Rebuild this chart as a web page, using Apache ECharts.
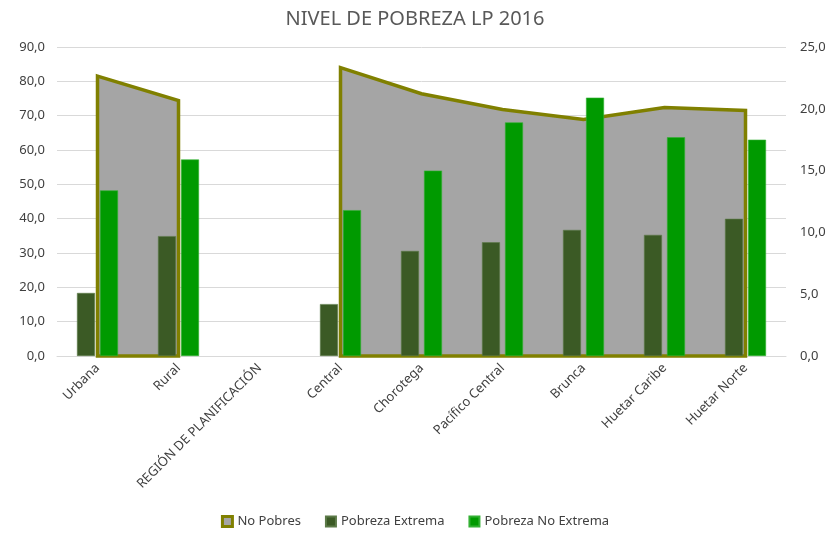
<!DOCTYPE html>
<html>
<head>
	<meta charset="utf-8">
	<title>Nivel de pobreza LP 2016</title>
	<style>
		html, body { margin: 0; padding: 0; background: #fff; }
		#chart { width: 830px; height: 535px; }
	</style>
</head>
<body>
<div id="chart"></div>
<script src="https://cdn.jsdelivr.net/npm/echarts@6/dist/echarts.min.js"></script>
<script>
	var categories = ['Urbana', 'Rural', 'REGIÓN DE PLANIFICACIÓN', 'Central', 'Chorotega', 'Pacífico Central', 'Brunca', 'Huetar Caribe', 'Huetar Norte'];
	// No Pobres, eje izquierdo
	var noPobres = [81.5, 74.4, null, 84.0, 76.4, 71.8, 68.9, 72.4, 71.5];
	// eje derecho
	var pobrezaExtrema = [5.1, 9.7, null, 4.2, 8.5, 9.2, 10.2, 9.8, 11.1];
	var pobrezaNoExtrema = [13.4, 15.9, null, 11.8, 15.0, 18.9, 20.9, 17.7, 17.5];

	var leftTicks = { min: 0, max: 90, interval: 10 };
	var rightTicks = { min: 0, max: 25, interval: 5 };

	// tramos continuos del área (se cortan en los valores vacíos)
	var segments = [];
	var start = null;
	for (var i = 0; i < noPobres.length; i++) {
		if (noPobres[i] != null && start === null) start = i;
		if ((noPobres[i] == null || i == noPobres.length - 1) && start !== null) {
			var end = noPobres[i] == null ? i - 1 : i;
			segments.push([start, end, 0]);
			start = null;
		}
	}

	function fmt(v) {
		return v.toFixed(1).replace('.', ',');
	}

	var font = 'Noto Sans';
	var grey = '#595959';

	var option = {
		animation: false,
		title: {
			text: 'NIVEL DE POBREZA LP 2016',
			left: 'center',
			top: 4,
			textStyle: { fontFamily: font, fontSize: 20, fontWeight: 'normal', color: grey }
		},
		legend: {
			bottom: 2,
			left: 'center',
			icon: 'rect',
			itemWidth: 10,
			itemHeight: 10,
			itemGap: 24,
			textStyle: { fontFamily: font, fontSize: 13, color: '#404040' },
			data: [
				{ name: 'No Pobres', itemStyle: { color: '#a5a5a5', borderColor: '#808000', borderWidth: 3 } },
				{ name: 'Pobreza Extrema' },
				{ name: 'Pobreza No Extrema' }
			]
		},
		grid: { left: 57, right: 44, top: 47, bottom: 179 },
		xAxis: {
			type: 'category',
			data: categories,
			axisLine: { lineStyle: { color: '#d9d9d9' } },
			axisTick: { show: false },
			axisLabel: {
				rotate: 45,
				interval: 0,
				fontFamily: font,
				fontSize: 13,
				color: '#404040',
				margin: 10
			}
		},
		yAxis: [
			{
				type: 'value',
				min: leftTicks.min,
				max: leftTicks.max,
				interval: leftTicks.interval,
				axisLine: { show: false },
				axisTick: { show: false },
				splitLine: { lineStyle: { color: '#d9d9d9' } },
				axisLabel: { formatter: fmt, fontFamily: font, fontSize: 13, color: '#404040', margin: 12 }
			},
			{
				type: 'value',
				min: rightTicks.min,
				max: rightTicks.max,
				interval: rightTicks.interval,
				axisLine: { show: false },
				axisTick: { show: false },
				splitLine: { show: false },
				axisLabel: { formatter: fmt, fontFamily: font, fontSize: 13, color: '#404040', margin: 14 }
			}
		],
		series: [
			{
				name: 'No Pobres',
				type: 'custom',
				yAxisIndex: 0,
				z: 1,
				data: segments,
				encode: { x: [0, 1], y: 2 },
				itemStyle: { color: '#a5a5a5', borderColor: '#808000', borderWidth: 3 },
				renderItem: function (params, api) {
					var s = api.value(0), e = api.value(1);
					var pts = [];
					for (var k = s; k <= e; k++) {
						pts.push(api.coord([k, noPobres[k]]));
					}
					pts.push(api.coord([e, 0]));
					pts.push(api.coord([s, 0]));
					return {
						type: 'polygon',
						shape: { points: pts },
						style: { fill: '#a5a5a5', stroke: '#808000', lineWidth: 3.5, lineJoin: 'miter' }
					};
				}
			},
			{
				name: 'Pobreza Extrema',
				type: 'bar',
				yAxisIndex: 1,
				z: 3,
				barWidth: 18,
				barGap: '28%',
				itemStyle: { color: '#3b5a25', borderColor: '#5c7a48', borderWidth: 0.6 },
				data: pobrezaExtrema
			},
			{
				name: 'Pobreza No Extrema',
				type: 'bar',
				yAxisIndex: 1,
				z: 3,
				barWidth: 18,
				barGap: '28%',
				itemStyle: { color: '#009a00', borderColor: '#33b033', borderWidth: 0.6 },
				data: pobrezaNoExtrema
			}
		]
	};

	var myChart = echarts.init(document.getElementById('chart'));
	myChart.setOption(option);
</script>
</body>
</html>
